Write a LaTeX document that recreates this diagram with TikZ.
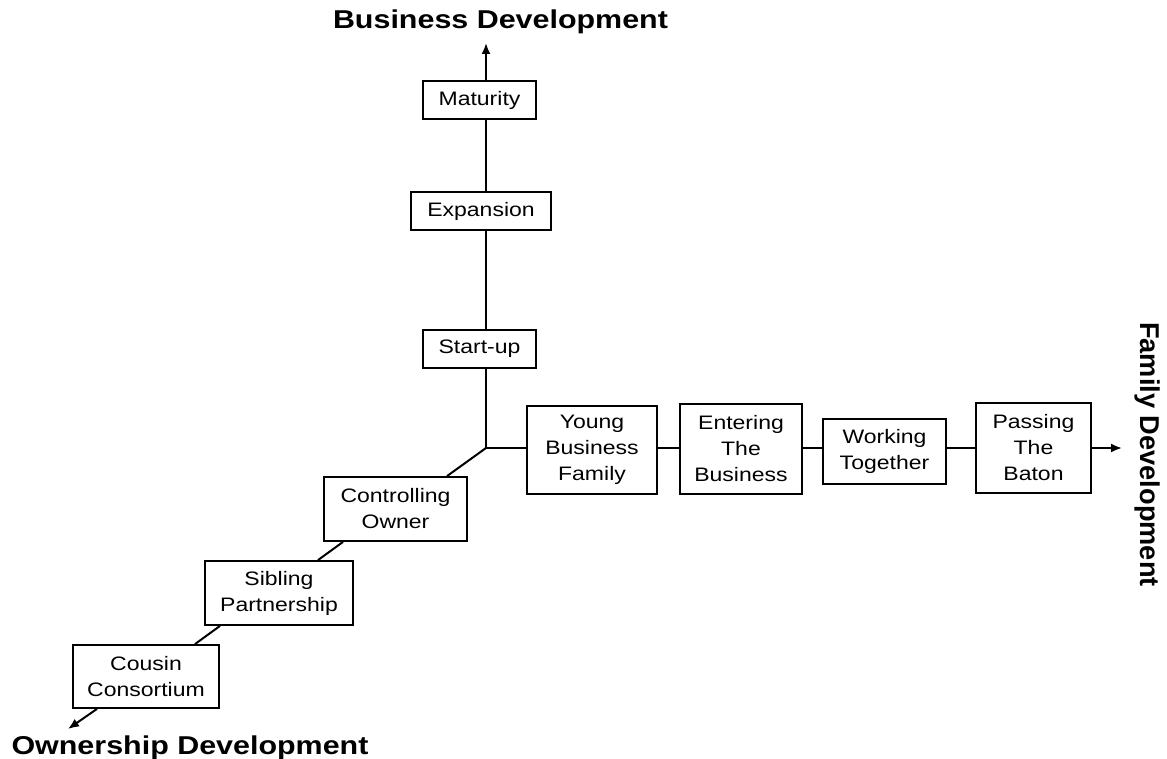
\documentclass[tikz,border=0pt]{standalone}
\usepackage{fontspec}
\setmainfont{Liberation Sans}[FakeStretch=1.18]
\newfontfamily\rotfont{Liberation Sans}
\usetikzlibrary{arrows.meta}
\begin{document}
\begin{tikzpicture}[x=1pt,y=-1pt,
  box/.style={draw, line width=1.8pt, inner sep=0pt, align=center,
    font=\fontsize{19.5}{26}\selectfont},
  axis/.style={line width=2pt},
  tipped/.style={-{Latex[length=11pt,width=9pt]}},
  titletext/.style={font=\fontsize{25.8}{30}\selectfont\bfseries, inner sep=0pt}
]
\fill[white] (0,0) rectangle (1167,759);
\useasboundingbox (0,0) rectangle (1167,759);

% business axis boxes
\node[box, minimum width=113pt, minimum height=38pt] (maturity) at (479.5,100) {Maturity};
\node[box, minimum width=140pt, minimum height=38pt] (expansion) at (481,211) {Expansion};
\node[box, minimum width=113pt, minimum height=38pt] (startup) at (479.5,349) {Start-up};

% family axis boxes
\node[box, minimum width=130pt, minimum height=88pt] (young) at (592,450) {Young\\Business\\Family};
\node[box, minimum width=122pt, minimum height=90pt] (entering) at (741,449) {Entering\\The\\Business};
\node[box, minimum width=123pt, minimum height=65pt] (working) at (884.5,451.5) {Working\\Together};
\node[box, minimum width=115pt, minimum height=90pt] (passing) at (1033.5,448) {Passing\\The\\Baton};

% ownership axis boxes
\node[box, minimum width=143pt, minimum height=64pt] (ctrl) at (395.5,509) {Controlling\\Owner};
\node[box, minimum width=148pt, minimum height=64pt] (sibling) at (279,593) {Sibling\\Partnership};
\node[box, minimum width=146pt, minimum height=63pt] (cousin) at (146,676.5) {Cousin\\Consortium};

% axis titles
\node[titletext, anchor=base] (bd) at (500.5,29) {Business Development};
\node[titletext, anchor=base] (od) at (190,754) {Ownership Development};
\node[font=\fontsize{27.2}{30}\selectfont\rotfont\bfseries, inner sep=0pt, rotate=-90, anchor=base] (fd) at (1140.5,454.5) {Family Development};

% coordinates
\coordinate (o) at (486,448);
\coordinate (btip) at (486,43);
\coordinate (ftip) at (1122,448);
\coordinate (otip) at (68,729);

% business axis
\draw[axis] (o) -- (o |- startup.south);
\draw[axis] (o |- startup.north) -- (o |- expansion.south);
\draw[axis] (o |- expansion.north) -- (o |- maturity.south);
\draw[axis, tipped] (o |- maturity.north) -- (btip);

% family axis
\draw[axis] (o) -- (young.west |- o);
\draw[axis] (young.east |- o) -- (entering.west |- o);
\draw[axis] (entering.east |- o) -- (working.west |- o);
\draw[axis] (working.east |- o) -- (passing.west |- o);
\draw[axis, tipped] (passing.east |- o) -- (ftip);

% ownership axis
\draw[axis] (o) -- ([xshift=51.5pt]ctrl.north);
\draw[axis] ([xshift=-52.5pt]ctrl.south) -- ([xshift=39pt]sibling.north);
\draw[axis] ([xshift=-59pt]sibling.south) -- ([xshift=49pt]cousin.north);
\draw[axis, tipped] ([xshift=-49pt]cousin.south) -- (otip);
\end{tikzpicture}
\end{document}
